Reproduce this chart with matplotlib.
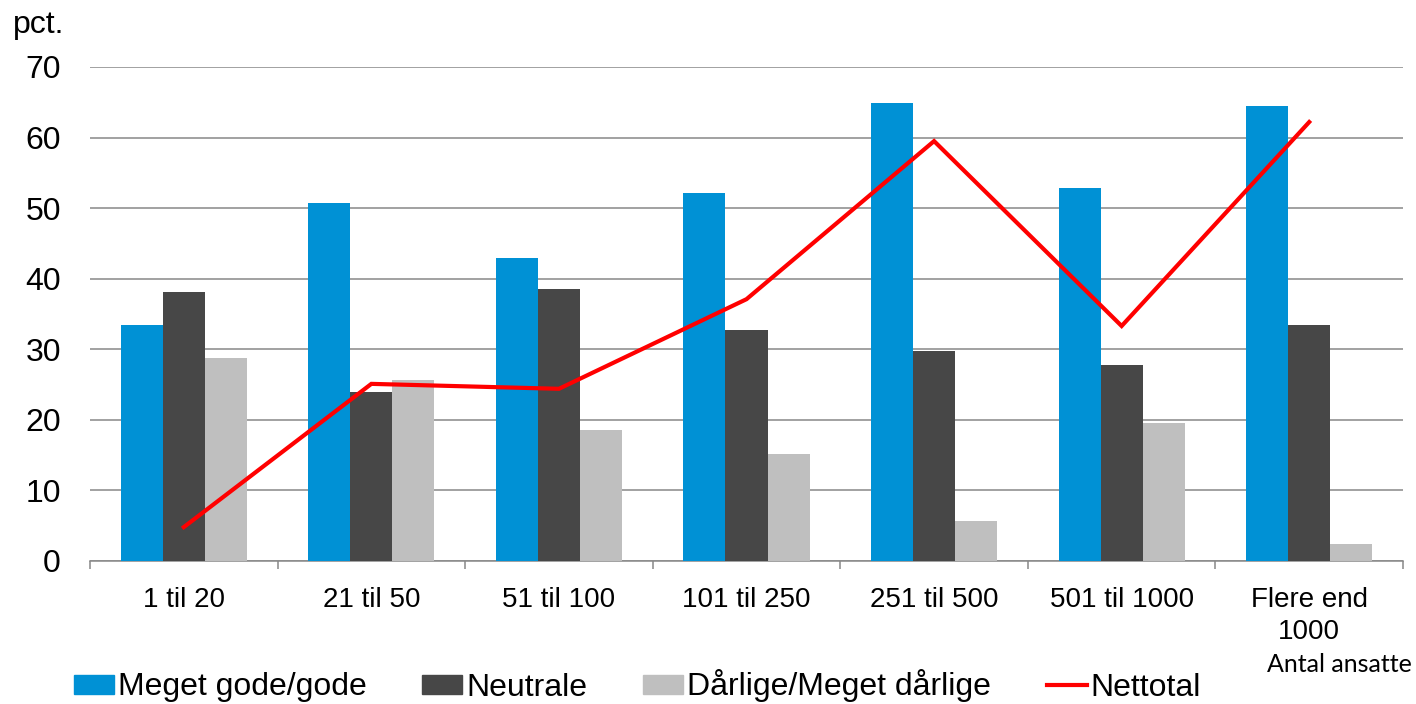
import matplotlib
matplotlib.use("Agg")
import matplotlib.pyplot as plt
import numpy as np
from matplotlib.patches import Patch
from matplotlib.lines import Line2D

categories = ["1 til 20", "21 til 50", "51 til 100", "101 til 250",
              "251 til 500", "501 til 1000", "Flere end\n1000"]
gode = [33.4, 50.7, 42.9, 52.1, 64.9, 52.9, 64.5]
neutrale = [38.1, 23.9, 38.5, 32.7, 29.8, 27.8, 33.4]
daarlige = [28.8, 25.6, 18.6, 15.2, 5.7, 19.6, 2.4]
nettotal = [4.8, 25.1, 24.4, 37.1, 59.5, 33.3, 62.2]
series_names = ["Meget gode/gode", "Neutrale", "Dårlige/Meget dårlige", "Nettotal"]
yticks = [0, 10, 20, 30, 40, 50, 60, 70]

c_blue = "#0091D5"
c_dark = "#474747"
c_light = "#BFBFBF"
c_red = "#FF0000"
c_grid = "#888888"

plt.rcParams['font.family'] = ['Liberation Sans', 'DejaVu Sans']

fig = plt.figure(figsize=(14.16, 7.04), dpi=100)
ax = fig.add_axes([90/1416, 1-561/704, (1403-90)/1416, (561-67)/704])

x = np.arange(len(categories))
w = 0.224
ax.bar(x - w, gode, w, color=c_blue, zorder=3)
ax.bar(x, neutrale, w, color=c_dark, zorder=3)
ax.bar(x + w, daarlige, w, color=c_light, zorder=3)
ax.plot(x, nettotal, color=c_red, lw=3, zorder=4, solid_joinstyle='miter')

ax.set_xlim(-0.5, len(categories) - 0.5)
ax.set_ylim(0, 70)
ax.set_yticks(yticks)
ax.yaxis.grid(True, color=c_grid, lw=1.1)
ax.set_axisbelow(True)
for s in ['top', 'right', 'left']:
    ax.spines[s].set_visible(False)
ax.spines['bottom'].set_color(c_grid)
ax.spines['bottom'].set_linewidth(1.1)

ax.set_xticks(x)
ax.set_xticklabels(categories, fontsize=20, linespacing=1.3)
ax.set_xticks(np.arange(-0.5, len(categories)), minor=True)
ax.tick_params(axis='x', which='major', length=0, pad=19)
ax.tick_params(axis='x', which='minor', length=6, color=c_grid, width=1.1)
ax.tick_params(axis='y', length=0, pad=21, labelsize=23)

fig.text(13/1416, 1-33/704, "pct.", fontsize=23, va='baseline', ha='left')
fig.text(1412/1416, 1-664/704, "Antal ansatte", fontsize=18, ha='right', va='center',
         family=['Lato', 'DejaVu Sans'])

handles = [Patch(color=c_blue), Patch(color=c_dark), Patch(color=c_light),
           Line2D([0], [0], color=c_red, lw=3)]
fig.legend(handles, series_names, loc='center left', bbox_to_anchor=(74/1416, 1-686/704),
           bbox_transform=fig.transFigure, ncol=4, frameon=False, fontsize=23,
           borderpad=0, borderaxespad=0, handlelength=1.25, handleheight=0.53,
           handletextpad=0.12, columnspacing=1.75)

fig.savefig("out.png", dpi=100)
